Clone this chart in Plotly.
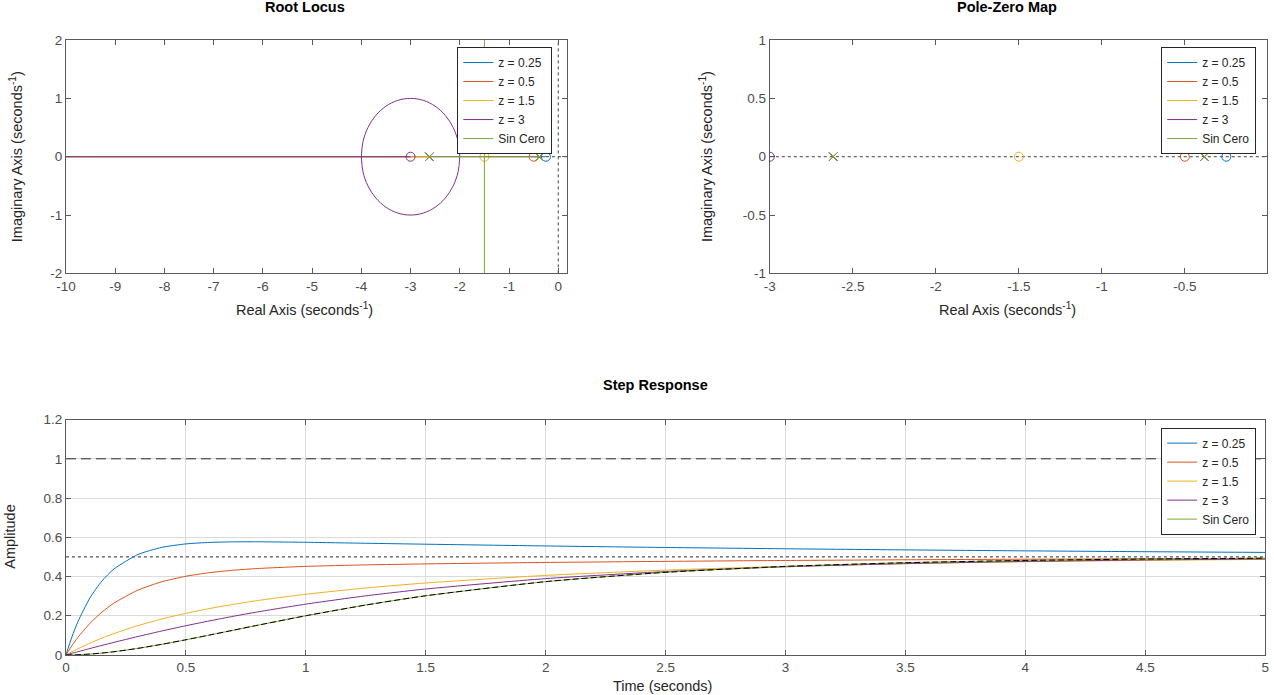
import plotly.graph_objects as go

# ---------------- data ----------------
names = ["z = 0.25", "z = 0.5", "z = 1.5", "z = 3", "Sin Cero"]
colors = ["#0072BD", "#D95319", "#EDB120", "#7E2F8E", "#77AC30"]

# open-loop poles (same for every system) and zeros of each system
poles = [-2.618, -0.382]
zeros = [-0.25, -0.5, -1.5, -3.0]

# root locus branches (None separates branches)
rl_025_x = [-0.382, -0.25, None, -2.618, -10.0]
rl_025_y = [0, 0, None, 0, 0]
rl_05_x = [-0.5, -0.382, None, -2.618, -10.0]
rl_05_y = [0, 0, None, 0, 0]
rl_15_x = [-0.382, -1.5, None, -2.618, -10.0]
rl_15_y = [0, 0, None, 0, 0]
rl_3_x = [-0.382, -2.0, None, -2.618, -2.0, None,
          -2.0, -2.034, -2.134, -2.293, -2.5, -2.741, -3.0, -3.259, -3.5, -3.707, -3.866, -3.966, -4.0, None,
          -2.0, -2.034, -2.134, -2.293, -2.5, -2.741, -3.0, -3.259, -3.5, -3.707, -3.866, -3.966, -4.0, None,
          -4.0, -3.0, None, -4.0, -10.0]
rl_3_y = [0, 0, None, 0, 0, None,
          0, 0.259, 0.5, 0.707, 0.866, 0.966, 1.0, 0.966, 0.866, 0.707, 0.5, 0.259, 0, None,
          0, -0.259, -0.5, -0.707, -0.866, -0.966, -1.0, -0.966, -0.866, -0.707, -0.5, -0.259, 0, None,
          0, 0, None, 0, 0]
rl_sc_x = [-2.618, -0.382, None, -1.5, -1.5]
rl_sc_y = [0, 0, None, -2.0, 2.0]

rl_x = [rl_025_x, rl_05_x, rl_15_x, rl_3_x, rl_sc_x]
rl_y = [rl_025_y, rl_05_y, rl_15_y, rl_3_y, rl_sc_y]

# step responses
t_step = [0, 0.025, 0.05, 0.1, 0.15, 0.2, 0.3, 0.4, 0.5, 0.6, 0.7, 0.8, 1.0,
          1.25, 1.5, 2.0, 2.5, 3.0, 3.5, 4.0, 4.5, 5.0]
y_025 = [0, 0.0919, 0.1696, 0.2906, 0.3768, 0.4380, 0.5121, 0.5487, 0.5662, 0.5739,
         0.5767, 0.5770, 0.5744, 0.5696, 0.5647, 0.5558, 0.5480, 0.5414, 0.5357,
         0.5307, 0.5265, 0.5228]
y_05 = [0, 0.0473, 0.0896, 0.1611, 0.2184, 0.2642, 0.3304, 0.3732, 0.4012, 0.4197,
        0.4322, 0.4408, 0.4516, 0.4592, 0.4643, 0.4716, 0.4772, 0.4817, 0.4853,
        0.4882, 0.4905, 0.4924]
y_15 = [0, 0.0162, 0.0316, 0.0601, 0.0858, 0.1090, 0.1495, 0.1834, 0.2122, 0.2370,
        0.2585, 0.2775, 0.3095, 0.3414, 0.3670, 0.4055, 0.4325, 0.4517, 0.4654,
        0.4752, 0.4822, 0.4873]
y_3 = [0, 0.0083, 0.0165, 0.0327, 0.0486, 0.0641, 0.0940, 0.1223, 0.1490, 0.1741,
       0.1976, 0.2196, 0.2592, 0.3014, 0.3363, 0.3892, 0.4251, 0.4494, 0.4658,
       0.4769, 0.4844, 0.4895]
y_sc = [0, 0.0003, 0.0012, 0.0045, 0.0097, 0.0164, 0.0336, 0.0543, 0.0774, 0.1018,
        0.1267, 0.1516, 0.1998, 0.2545, 0.3018, 0.3738, 0.4213, 0.4515, 0.4703,
        0.4819, 0.4890, 0.4933]
step_y = [y_025, y_05, y_15, y_3, y_sc]

final_value = 0.5
unit_ref = 1.0
t_span = [0, 5]

# tick labels
rl_xticks = [-10, -9, -8, -7, -6, -5, -4, -3, -2, -1, 0]
rl_yticks = [-2, -1, 0, 1, 2]
pz_xticks = [-3, -2.5, -2, -1.5, -1, -0.5]
pz_yticks = [-1, -0.5, 0, 0.5, 1]
st_xticks = [0, 0.5, 1, 1.5, 2, 2.5, 3, 3.5, 4, 4.5, 5]
st_yticks = [0, 0.2, 0.4, 0.6, 0.8, 1, 1.2]

# ---------------- figure ----------------
W, H = 1274, 695
FONT = "Arial, Liberation Sans, sans-serif"
TICKC = "#4d4d4d"
LABC = "#262626"

# the page shows the figure inside the default body margin; map target screen pixels to paper fractions
OFFX, VW = 9, 1262
OFFY, VH = 8, 679


def px(sx):
    return min(1.0, max(0.0, (sx - OFFX) / VW))


def py(sy):
    return min(1.0, max(0.0, 1 - (sy - OFFY) / VH))


def lbl(vals):
    return [("%g" % v) for v in vals]


fig = go.Figure()

# Root locus
for i in range(5):
    fig.add_trace(go.Scatter(x=rl_x[i], y=rl_y[i], mode="lines", name=names[i],
                             line=dict(color=colors[i], width=1, shape="spline", smoothing=1.0),
                             xaxis="x", yaxis="y", legend="legend", showlegend=True))
    fig.add_trace(go.Scatter(x=poles, y=[0] * len(poles), mode="markers", showlegend=False,
                             marker=dict(symbol="x-thin-open", size=8, color=colors[i],
                                         line=dict(color=colors[i], width=1)),
                             xaxis="x", yaxis="y"))
    if i < 4:
        fig.add_trace(go.Scatter(x=[zeros[i]], y=[0], mode="markers", showlegend=False,
                                 marker=dict(symbol="circle-open", size=9, color=colors[i],
                                             line=dict(color=colors[i], width=1)),
                                 xaxis="x", yaxis="y"))
# imaginary / real axis dotted lines
fig.add_trace(go.Scatter(x=[0, 0], y=[-2, 2], mode="lines", showlegend=False,
                         line=dict(color="#404040", width=1, dash="dot"), xaxis="x", yaxis="y"))
fig.add_trace(go.Scatter(x=[-0.25, 0.2], y=[0, 0], mode="lines", showlegend=False,
                         line=dict(color="#404040", width=1, dash="dot"), xaxis="x", yaxis="y"))

# Pole-zero map
fig.add_trace(go.Scatter(x=[-3, 0], y=[0, 0], mode="lines", showlegend=False,
                         line=dict(color="#404040", width=1, dash="dot"), xaxis="x2", yaxis="y2"))
for i in range(5):
    fig.add_trace(go.Scatter(x=[None], y=[None], mode="lines", name=names[i],
                             line=dict(color=colors[i], width=1),
                             xaxis="x2", yaxis="y2", legend="legend2"))
    fig.add_trace(go.Scatter(x=poles, y=[0] * len(poles), mode="markers", showlegend=False,
                             marker=dict(symbol="x-thin-open", size=8, color=colors[i],
                                         line=dict(color=colors[i], width=1)),
                             xaxis="x2", yaxis="y2"))
    if i < 4:
        fig.add_trace(go.Scatter(x=[zeros[i]], y=[0], mode="markers", showlegend=False,
                                 marker=dict(symbol="circle-open", size=9, color=colors[i],
                                             line=dict(color=colors[i], width=1)),
                                 xaxis="x2", yaxis="y2"))

# Step response
fig.add_trace(go.Scatter(x=t_span, y=[unit_ref, unit_ref], mode="lines", showlegend=False,
                         line=dict(color="#262626", width=1, dash="10px,5px"), xaxis="x3", yaxis="y3"))
fig.add_trace(go.Scatter(x=t_span, y=[final_value, final_value], mode="lines", showlegend=False,
                         line=dict(color="#262626", width=1, dash="dot"), xaxis="x3", yaxis="y3"))
for i in range(5):
    fig.add_trace(go.Scatter(x=t_step, y=step_y[i], mode="lines", name=names[i],
                             line=dict(color=colors[i], width=1, shape="spline", smoothing=0.6),
                             xaxis="x3", yaxis="y3", legend="legend3"))
fig.add_trace(go.Scatter(x=t_step, y=y_sc, mode="lines", showlegend=False,
                         line=dict(color="#000000", width=1, dash="6px,3px", shape="spline", smoothing=0.6),
                         xaxis="x3", yaxis="y3"))

axis_common = dict(showline=True, linecolor="#5a5a5a", linewidth=1, mirror="ticks",
                   ticks="inside", ticklen=5, tickcolor="#5a5a5a", zeroline=False,
                   tickfont=dict(family=FONT, size=13.5, color=TICKC))

fig.update_layout(
    width=W, height=H, margin=dict(l=0, r=0, t=0, b=0),
    paper_bgcolor="white", plot_bgcolor="white", showlegend=True,
    xaxis=dict(domain=[px(65), px(567)], range=[-10, 0.18], tickvals=rl_xticks, ticktext=lbl(rl_xticks),
               showgrid=False, anchor="y", **axis_common),
    yaxis=dict(domain=[py(274), py(41)], range=[-2, 2], tickvals=rl_yticks, ticktext=lbl(rl_yticks),
               showgrid=False, anchor="x", **axis_common),
    xaxis2=dict(domain=[px(770), px(1268)], range=[-3, -0.005], tickvals=pz_xticks, ticktext=lbl(pz_xticks),
                showgrid=False, anchor="y2", **axis_common),
    yaxis2=dict(domain=[py(274), py(41)], range=[-1, 1], tickvals=pz_yticks, ticktext=lbl(pz_yticks),
                showgrid=False, anchor="x2", **axis_common),
    xaxis3=dict(domain=[px(65), min(px(1268), 0.9962)], range=[0, 5], tickvals=st_xticks,
                ticktext=lbl(st_xticks),
                showgrid=True, gridcolor="#dcdcdc", gridwidth=1, anchor="y3", **axis_common),
    yaxis3=dict(domain=[py(655), py(420)], range=[0, 1.2], tickvals=st_yticks, ticktext=lbl(st_yticks),
                showgrid=True, gridcolor="#dcdcdc", gridwidth=1, anchor="x3", **axis_common),
)

leg_common = dict(bgcolor="white", bordercolor="#262626", borderwidth=1,
                  font=dict(family=FONT, size=12, color="#262626"),
                  xanchor="left", yanchor="top", tracegroupgap=0, itemclick=False)
fig.update_layout(
    legend=dict(x=px(457), y=py(48), **leg_common),
    legend2=dict(x=px(1162), y=py(48), **leg_common),
    legend3=dict(x=px(1162), y=py(428), **leg_common),
)


def ann(text, x, y, size, bold=False, angle=0, color=LABC):
    fig.add_annotation(text=("<b>%s</b>" % text) if bold else text, x=px(x), y=py(y),
                       xref="paper", yref="paper", showarrow=False, textangle=angle,
                       xanchor="center", yanchor="middle",
                       font=dict(family=FONT, size=size, color=color))


ann("Root Locus", 304, 8, 14.5, bold=True, color="#000000")
ann("Pole-Zero Map", 1008, 8, 14.5, bold=True, color="#000000")
ann("Step Response", 656, 385, 14.5, bold=True, color="#000000")
ann("Real Axis (seconds<sup>-1</sup>)", 304, 310, 14.5)
ann("Real Axis (seconds<sup>-1</sup>)", 1008, 310, 14.5)
ann("Imaginary Axis (seconds<sup>-1</sup>)", 15, 157, 14.5, angle=-90)
ann("Imaginary Axis (seconds<sup>-1</sup>)", 706, 157, 14.5, angle=-90)
ann("Time (seconds)", 663, 686, 14.5)
ann("Amplitude", 9, 537, 14.5, angle=-90)

fig.write_html("out.html")
